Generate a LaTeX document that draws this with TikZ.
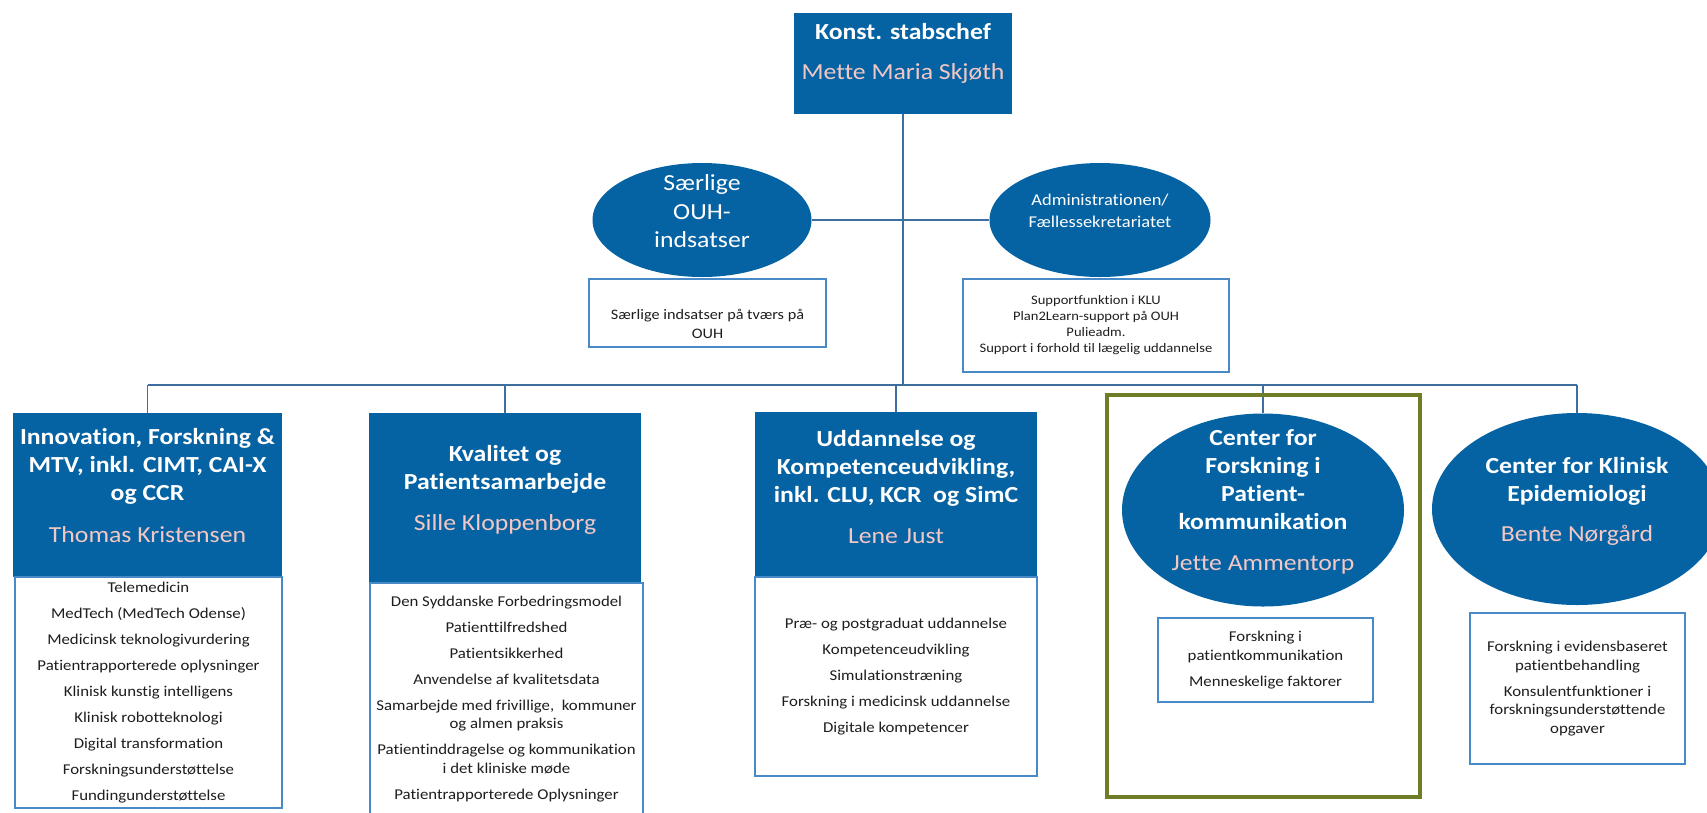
\documentclass[tikz,border=0pt]{standalone}
\usepackage{fontspec}
\setmainfont{Carlito}[FakeStretch=1.12, Ligatures=NoCommon]
\usetikzlibrary{shapes.geometric}
\definecolor{ouhblue}{RGB}{5,99,164}
\definecolor{navnrosa}{RGB}{243,199,196}
\definecolor{linje}{RGB}{60,110,160}
\definecolor{ramme}{RGB}{72,138,200}
\definecolor{oliven}{RGB}{111,125,40}
\definecolor{tekst}{RGB}{30,30,30}
\tikzset{
  blok/.style={fill=ouhblue, inner sep=0pt},
  oval/.style={ellipse, fill=ouhblue, inner sep=0pt},
  titel/.style={text=white, align=center, inner sep=0pt, font=\fontsize{23}{28}\selectfont\bfseries},
  liste/.style={draw=ramme, line width=1.2pt, fill=white, text=tekst, align=center, inner sep=0pt, font=\fontsize{15}{18.5}\selectfont},
  forbind/.style={draw=linje, line width=1.5pt}
}
\newcommand{\navn}[1]{{\color{navnrosa}\mdseries #1}}
\newcommand{\punkt}{\\[7.5pt]}
\begin{document}
\begin{tikzpicture}[x=1pt,y=-1pt]
\useasboundingbox (0,0) rectangle (1707,812);
% ledelse og stab
\node[blok, minimum width=218, minimum height=101] (chef) at (903,63.5) {};
\node[titel] (cheftxt) at (903,53) {Konst. stabschef\\[12pt]\navn{Mette Maria Skjøth}};
\node[oval, minimum width=219, minimum height=114] (saerlige) at (702,220) {};
\node[text=white, align=center, inner sep=0pt, font=\fontsize{23}{28.5}\selectfont] (saerligetxt) at (702,211.5) {Særlige\\OUH-\\indsatser};
\node[oval, minimum width=221, minimum height=114] (adm) at (1100,220) {};
\node[text=white, align=center, inner sep=0pt, font=\fontsize{16.5}{22}\selectfont] (admtxt) at (1100,211) {Administrationen/\\Fællessekretariatet};
\node[liste, minimum width=237, minimum height=68, font=\fontsize{14.5}{19}\selectfont] (saerligeliste) at (707.5,313) {\rule{0pt}{32pt}Særlige indsatser på tværs på\\OUH};
\node[liste, minimum width=266, minimum height=93, font=\fontsize{13}{16}\selectfont] (admliste) at (1096,325.5) {Supportfunktion i KLU\\Plan2Learn-support på OUH\\Pulieadm.\\Support i forhold til lægelig uddannelse};
\coordinate (bar) at (903,385);
\draw[forbind] (chef) -- (bar);
\draw[forbind] (saerlige) -- (adm);
% enheder
\node[blok, minimum width=269, minimum height=164] (inno) at (147.5,495) {};
\node[titel] (innotxt) at (147.5,486) {Innovation, Forskning \&\\MTV, inkl. CIMT, CAI-X\\og CCR\\[14pt]\navn{Thomas Kristensen}};
\node[liste, minimum width=267, minimum height=231] (innoliste) at (148.5,692.5) {Telemedicin\punkt MedTech (MedTech Odense)\punkt Medicinsk teknologivurdering\punkt Patientrapporterede oplysninger\punkt Klinisk kunstig intelligens\punkt Klinisk robotteknologi\punkt Digital transformation\punkt Forskningsunderstøttelse\punkt Fundingunderstøttelse};
\node[blok, minimum width=272, minimum height=170] (kval) at (505,498) {};
\node[titel] (kvaltxt) at (505,490) {Kvalitet og\\Patientsamarbejde\\[13pt]\navn{Sille Kloppenborg}};
\node[liste, minimum width=273, minimum height=232] (kvalliste) at (506.5,699) {Den Syddanske Forbedringsmodel\punkt Patienttilfredshed\punkt Patientsikkerhed\punkt Anvendelse af kvalitetsdata\punkt Samarbejde med frivillige,\ \ kommuner\\og almen praksis\punkt Patientinddragelse og kommunikation\\i det kliniske møde\punkt Patientrapporterede Oplysninger};
\node[blok, minimum width=282, minimum height=165] (udd) at (896,494.5) {};
\node[titel] (uddtxt) at (896,487) {Uddannelse og\\Kompetenceudvikling,\\inkl. CLU, KCR\ \ og SimC\\[13pt]\navn{Lene Just}};
\node[liste, minimum width=282, minimum height=199] (uddliste) at (896,676.5) {Præ- og postgraduat uddannelse\punkt Kompetenceudvikling\punkt Simulationstræning\punkt Forskning i medicinsk uddannelse\punkt Digitale kompetencer};
\node[oval, minimum width=282, minimum height=193] (pk) at (1263,510) {};
\node[titel] (pktxt) at (1263,501.5) {Center for\\Forskning i\\Patient-\\kommunikation\\[13pt]\navn{Jette Ammentorp}};
\node[liste, minimum width=215, minimum height=84] (pkliste) at (1265.5,660) {Forskning i\\patientkommunikation\punkt Menneskelige faktorer};
\node[oval, minimum width=290, minimum height=192] (epi) at (1577,509) {};
\node[titel] (epitxt) at (1577,501) {Center for Klinisk\\Epidemiologi\\[12pt]\navn{Bente Nørgård}};
\node[liste, minimum width=215, minimum height=151] (epiliste) at (1577.5,688.5) {Forskning i evidensbaseret\\patientbehandling\punkt Konsulentfunktioner i\\forskningsunderstøttende\\opgaver};
\draw[forbind] (inno.north |- bar) -- (epi.north |- bar);
\foreach \n in {inno,kval,udd,pk,epi}
  \draw[forbind] (\n.north |- bar) -- (\n.north);
\node[draw=oliven, line width=4.5pt, minimum width=313, minimum height=402, inner sep=0pt] (pkramme) at (1263.5,596) {};
\end{tikzpicture}
\end{document}
